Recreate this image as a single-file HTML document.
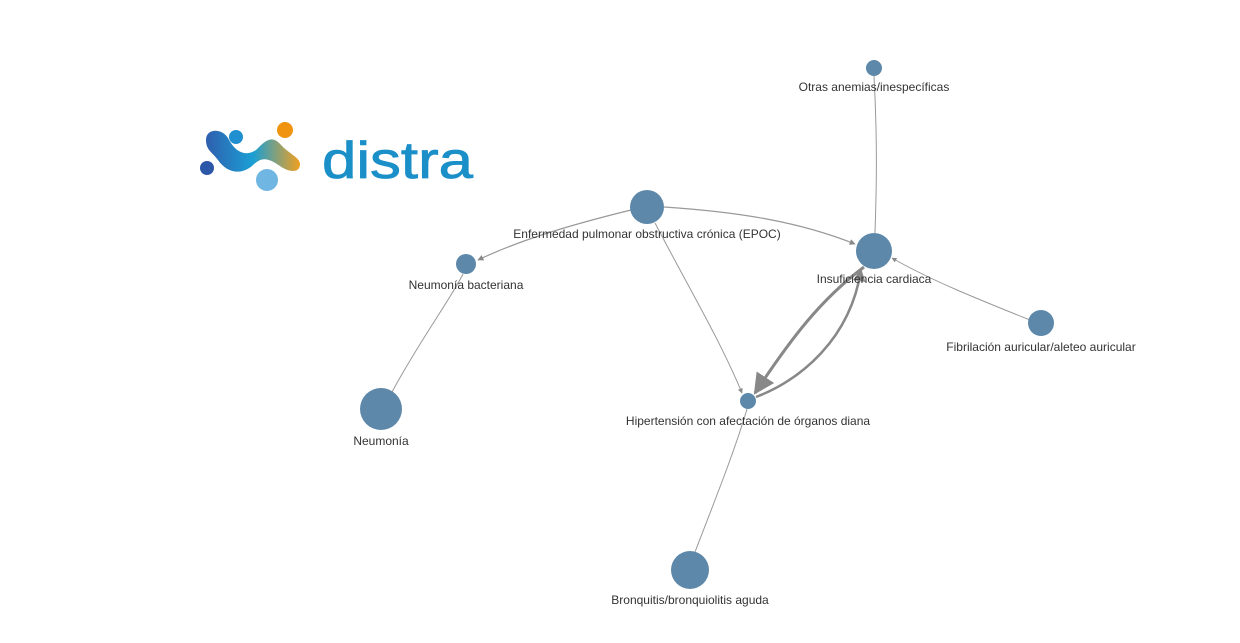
<!DOCTYPE html>
<html><head><meta charset="utf-8"><style>
body{margin:0;background:#fff;width:1240px;height:638px;overflow:hidden;font-family:"Liberation Sans",Arial,sans-serif}
</style></head><body>
<svg width="1240" height="638" xmlns="http://www.w3.org/2000/svg">
<defs>
<linearGradient id="g" x1="0" y1="0" x2="1" y2="0"><stop offset="0" stop-color="#2f5fae"/><stop offset="0.5" stop-color="#1b9fd4"/><stop offset="1" stop-color="#f0a020"/></linearGradient>
<marker id="a" viewBox="0 0 10 10" refX="9" refY="5" markerWidth="7" markerHeight="7" orient="auto"><path d="M0,0L10,5L0,10z" fill="#888"/></marker>
<marker id="b" viewBox="0 0 10 10" refX="9" refY="5" markerWidth="5" markerHeight="5" orient="auto"><path d="M0,0L10,5L0,10z" fill="#888"/></marker>
</defs>
<!-- logo -->
<path d="M206,140 C206,128 222,128 228,138 C234,150 244,158 256,150 C266,140 272,134 282,146 C290,154 300,158 300,164 C300,174 288,172 280,166 C268,158 262,156 252,166 C240,176 226,172 218,160 C212,152 206,150 206,140Z" fill="url(#g)"/>
<circle cx="236" cy="137" r="7" fill="#1f8fd0"/>
<circle cx="285" cy="130" r="8" fill="#f0930f"/>
<circle cx="207" cy="168" r="7" fill="#2c57a8"/>
<circle cx="267" cy="180" r="11" fill="#6fb6e2"/>
<text x="322" y="178" font-size="52" fill="#1a8fc8" textLength="151" lengthAdjust="spacingAndGlyphs" stroke="#1a8fc8" stroke-width="0.8">distra</text>
<!-- edges -->
<g fill="none" stroke="#999">
<path d="M874,76 C878,150 876,200 875,233" stroke-width="1"/>
<path d="M664,207 C740,212 800,222 855,244" stroke-width="1.2" marker-end="url(#b)"/>
<path d="M631,210 C570,225 520,240 478,260" stroke-width="1.2" marker-end="url(#b)"/>
<path d="M655,223 C690,290 720,340 742,393" stroke-width="1" marker-end="url(#b)"/>
<path d="M1030,320 C980,300 930,280 892,258" stroke-width="1" marker-end="url(#b)"/>
<path d="M864,267 C820,300 790,340 755,393" stroke-width="3" stroke="#888" marker-end="url(#a)"/>
<path d="M756,397 C800,380 850,340 861,270" stroke-width="2.5" stroke="#888" marker-end="url(#b)"/>
<path d="M392,392 C420,340 450,300 463,274" stroke-width="1"/>
<path d="M695,552 C715,500 735,450 747,409" stroke-width="1"/>
</g>
<!-- nodes -->
<g fill="#5d88aa">
<circle cx="647" cy="207" r="17"/>
<circle cx="874" cy="251" r="18"/>
<circle cx="874" cy="68" r="8"/>
<circle cx="466" cy="264" r="10"/>
<circle cx="381" cy="409" r="21"/>
<circle cx="748" cy="401" r="8"/>
<circle cx="1041" cy="323" r="13"/>
<circle cx="690" cy="570" r="19"/>
</g>
<g font-size="12" fill="#333" text-anchor="middle">
<text x="647" y="238">Enfermedad pulmonar obstructiva crónica (EPOC)</text>
<text x="874" y="283">Insuficiencia cardiaca</text>
<text x="874" y="91">Otras anemias/inespecíficas</text>
<text x="466" y="289">Neumonía bacteriana</text>
<text x="381" y="445">Neumonía</text>
<text x="748" y="425">Hipertensión con afectación de órganos diana</text>
<text x="1041" y="351">Fibrilación auricular/aleteo auricular</text>
<text x="690" y="604">Bronquitis/bronquiolitis aguda</text>
</g>
</svg>
</body></html>
